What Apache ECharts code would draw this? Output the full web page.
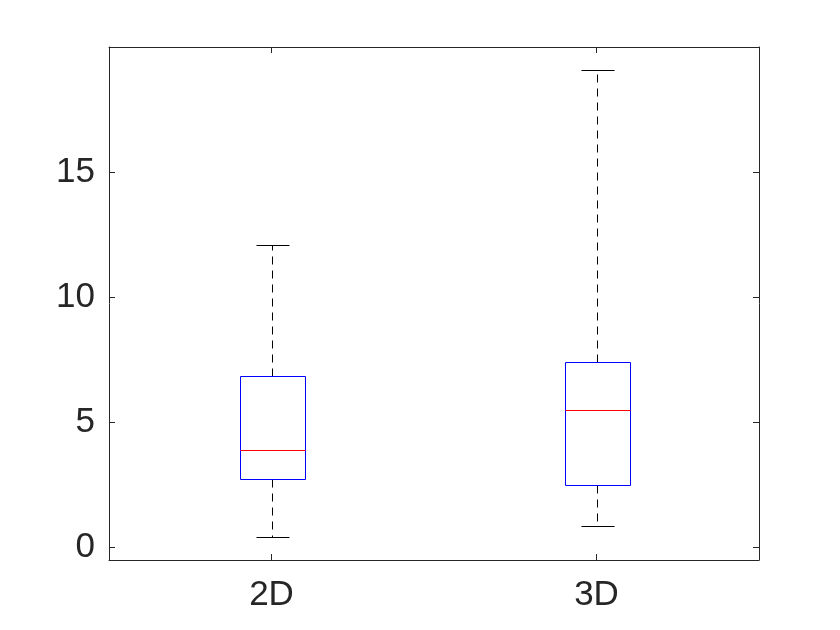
<!DOCTYPE html>
<html>
<head>
<meta charset="utf-8">
<script src="https://cdn.jsdelivr.net/npm/echarts@6/dist/echarts.min.js"></script>
<style>html,body{margin:0;padding:0;background:#fff}#chart{width:840px;height:630px}</style>
</head>
<body>
<div id="chart"></div>
<script>
const categories = ['2D', '3D'];
const lowerWhisker = [0.42, 0.87];
const q1 = [2.73, 2.51];
const median = [3.90, 5.48];
const q3 = [6.87, 7.40];
const upperWhisker = [12.10, 19.08];
const yTickValues = [0, 5, 10, 15];

const boxData = categories.map((c, i) => [i, lowerWhisker[i], q1[i], median[i], q3[i], upperWhisker[i]]);

const FONT = 'Liberation Sans, Arial, Helvetica, sans-serif';
const AX = '#262626';

function px(v) { return Math.round(v) + 0.5; }

function renderItem(params, api) {
  const i = api.value(0);
  const band = api.size([1, 0])[0];
  const cx = px(api.coord([i, 0])[0]);
  const half = band * 0.1;
  const capHalf = band * 0.05;
  const yLow = px(api.coord([i, api.value(1)])[1]);
  const yQ1 = px(api.coord([i, api.value(2)])[1]);
  const yMed = px(api.coord([i, api.value(3)])[1]);
  const yQ3 = px(api.coord([i, api.value(4)])[1]);
  const yHigh = px(api.coord([i, api.value(5)])[1]);
  const x0 = px(cx - half), x1 = px(cx + half);
  const dash = { stroke: '#000', lineWidth: 1, lineDash: [8, 6] };
  const solid = { stroke: '#000', lineWidth: 1 };
  return {
    type: 'group',
    children: [
      { type: 'line', shape: { x1: cx, y1: yQ3, x2: cx, y2: yHigh }, style: dash },
      { type: 'line', shape: { x1: cx, y1: yQ1, x2: cx, y2: yLow }, style: dash },
      { type: 'line', shape: { x1: px(cx - capHalf), y1: yHigh, x2: px(cx + capHalf), y2: yHigh }, style: solid },
      { type: 'line', shape: { x1: px(cx - capHalf), y1: yLow, x2: px(cx + capHalf), y2: yLow }, style: solid },
      { type: 'rect', shape: { x: x0, y: yQ3, width: x1 - x0, height: yQ1 - yQ3 }, style: { fill: '#fff', stroke: '#0000ff', lineWidth: 1 } },
      { type: 'line', shape: { x1: x0, y1: yMed, x2: x1, y2: yMed }, style: { stroke: '#ff0000', lineWidth: 1 } }
    ]
  };
}

const chart = echarts.init(document.getElementById('chart'), null, { renderer: 'canvas' });
const yBase = {
  type: 'value',
  min: -0.5,
  max: 20,
  splitLine: { show: false },
  axisLine: { show: true, onZero: false, lineStyle: { color: AX, width: 1 } },
  axisTick: { show: true, inside: true, length: 6, customValues: yTickValues, lineStyle: { color: AX } }
};
chart.setOption({
  animation: false,
  backgroundColor: '#ffffff',
  grid: { left: 109, right: 81, top: 47, bottom: 70, containLabel: false },
  xAxis: [
    {
      type: 'category', data: categories, position: 'bottom', boundaryGap: true,
      axisLine: { show: true, onZero: false, lineStyle: { color: AX, width: 1 } },
      axisTick: { show: true, inside: true, length: 6, alignWithLabel: true, lineStyle: { color: AX } },
      axisLabel: { color: AX, fontSize: 35, fontFamily: FONT, margin: 18 },
      splitLine: { show: false }
    },
    {
      type: 'category', data: categories, position: 'top', boundaryGap: true,
      axisLine: { show: true, onZero: false, lineStyle: { color: AX, width: 1 } },
      axisTick: { show: true, inside: true, length: 6, alignWithLabel: true, lineStyle: { color: AX } },
      axisLabel: { show: false },
      splitLine: { show: false }
    }
  ],
  yAxis: [
    Object.assign({}, yBase, {
      position: 'left',
      axisLabel: { color: AX, fontSize: 35, fontFamily: FONT, margin: 14, customValues: yTickValues }
    }),
    Object.assign({}, yBase, {
      position: 'right',
      axisLabel: { show: false }
    })
  ],
  series: [{
    type: 'custom',
    xAxisIndex: 0,
    yAxisIndex: 0,
    renderItem: renderItem,
    encode: { x: 0, y: [1, 2, 3, 4, 5] },
    data: boxData,
    clip: false
  }]
});
</script>
</body>
</html>
